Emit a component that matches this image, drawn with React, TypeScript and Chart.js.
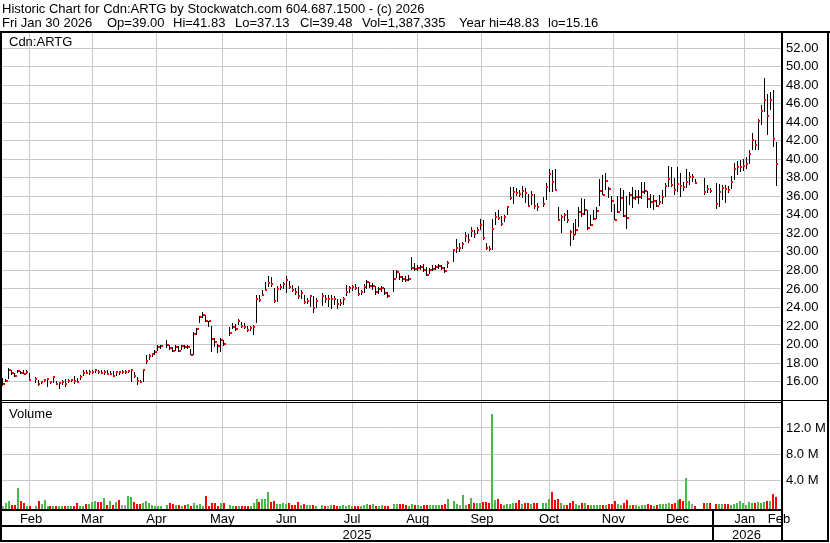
import React, { useEffect, useRef } from 'react';
import { Chart, registerables } from 'chart.js';

Chart.register(...registerables);

// ---------- text ----------
const headerTitle = 'Historic Chart for Cdn:ARTG by Stockwatch.com 604.687.1500 - (c) 2026';
const headerDate = 'Fri Jan 30 2026';
const headerStats = ['Op=39.00', 'Hi=41.83', 'Lo=37.13', 'Cl=39.48', 'Vol=1,387,335', 'Year hi=48.83', 'lo=15.16'];
const symbolLabel = 'Cdn:ARTG';
const volumeLabel = 'Volume';

// ---------- calendar (weekday index from Mon Feb 3 2025) ----------
const monthLabels = ['Feb', 'Mar', 'Apr', 'May', 'Jun', 'Jul', 'Aug', 'Sep', 'Oct', 'Nov', 'Dec', 'Jan', 'Feb'];
const monthStarts = [0, 20, 41, 63, 85, 106, 129, 150, 172, 195, 215, 238, 260];
const yearLabels = ['2025', '2026'];
const yearStarts = [0, 238];

// ---------- axis ticks ----------
const priceTicks = [16, 18, 20, 22, 24, 26, 28, 30, 32, 34, 36, 38, 40, 42, 44, 46, 48, 50, 52];
const volumeTicks = [4, 8, 12]; // millions

// ---------- daily data (null = market holiday) ----------
const close = [
  15.74, 16.10, 17.30, 16.90, 16.60, 17.14, 16.90, 16.85, 17.00, 16.20,
  null, 16.30, 15.74, 15.96, 16.20, 16.30, 15.90, 16.46, 15.74, 15.80,
  15.96, 15.74, 16.10, 16.17, 16.10, 15.90, 16.46, 16.96, 16.90, 16.98,
  17.02, 17.25, 17.00, 16.96, 17.05, 16.82, 16.85, 16.60, 17.05, 17.00,
  17.00, 17.00, 17.10, 17.25, 16.60, 16.10, 15.96, 17.25, 18.26, 18.76,
  18.98, 19.20, 19.77, 19.80, null, 19.99, 19.59, 19.34, 19.70, 19.34,
  19.84, 19.70, 19.77, 18.91, 21.14, 21.64, 23.00, 23.19, 22.58, 22.55,
  20.63, 20.31, 19.84, 20.49, 20.06, null, 21.28, 21.93, 21.70, 22.58,
  22.00, 21.86, 21.57, 21.79, 21.86, 24.95, 24.81, 25.39, 25.89, 26.68,
  26.50, 24.70, 26.03, 26.20, 26.50, 27.00, 26.20, 25.90, 25.70, 25.20,
  25.60, 24.60, 24.70, 25.20, 23.90, 24.70, null, 25.20, 24.90, 24.90,
  24.95, 24.90, 24.40, 24.45, 24.90, 25.70, 26.10, 26.20, 26.15, 25.45,
  25.70, 26.20, 26.80, 26.30, 26.35, 25.70, 26.00, 26.10, 25.60, 25.20,
  null, 27.10, 27.80, 27.30, 27.10, 27.00, 27.10, 28.30, 28.20, 28.30,
  28.40, 28.00, 27.50, 28.00, 28.20, 28.40, 28.45, 28.30, 27.90, 28.80,
  null, 30.20, 30.45, 30.45, 30.85, 31.70, 31.30, 32.25, 31.90, 32.40,
  32.90, 31.50, 30.45, 30.35, 32.50, 33.80, 33.70, 33.00, 33.80, 34.90,
  35.85, 36.50, 36.40, 36.20, 36.60, 36.40, 35.00, 36.10, 34.95, 34.90,
  null, 35.20, 37.00, 38.37, 37.50, 36.70, 33.50, 33.80, 34.00, 33.44,
  32.20, 31.80, 32.40, 34.34, 34.10, 34.50, 32.60, 32.90, 33.60, 34.45,
  36.60, 36.10, 37.70, 36.80, 35.50, 33.44, 34.34, 35.85, 33.90, 33.70,
  36.10, 35.85, 35.96, 35.98, 36.50, 36.60, 35.70, 35.35, 35.50, 35.00,
  35.35, 35.96, 37.15, 37.90, 37.20, 36.70, 37.33, 37.15, 36.97, 37.60,
  38.10, 38.10, 37.47, null, null, 36.50, 36.80, 36.60, null, 35.20,
  36.43, 36.93, 36.80, 36.70, 37.55, 38.99, 39.20, 39.22, 39.27, 39.49,
  40.57, 42.08, 41.54, 44.13, 45.25, 46.40, 44.67, 46.40, 42.20, 39.48,
];

const high = [
  16.35, 16.30, 17.47, 17.20, 16.90, 17.30, 17.10, 17.20, 17.20, 16.90,
  null, 16.46, 16.20, 16.10, 16.30, 16.35, 16.10, 16.60, 16.10, 16.00,
  16.20, 16.25, 16.30, 16.30, 16.60, 16.40, 16.70, 17.20, 17.20, 17.20,
  17.20, 17.35, 17.30, 17.20, 17.20, 17.20, 17.10, 17.10, 17.10, 17.10,
  17.20, 17.20, 17.20, 17.30, 17.00, 16.53, 16.20, 17.30, 18.90, 18.95,
  19.10, 19.40, 19.95, 20.00, null, 20.50, 20.00, 19.70, 19.90, 19.80,
  20.00, 19.95, 20.00, 19.50, 21.30, 21.80, 23.08, 23.55, 23.20, 22.58,
  22.00, 20.70, 20.06, 20.67, 20.50, null, 21.93, 22.29, 22.20, 22.72,
  22.40, 22.30, 22.00, 22.00, 22.11, 25.35, 25.30, 25.90, 26.79, 27.40,
  27.26, 26.07, 26.30, 26.50, 26.80, 27.40, 26.90, 26.40, 26.10, 26.30,
  25.90, 25.40, 25.00, 25.40, 25.20, 25.00, null, 25.60, 25.40, 25.30,
  25.30, 25.20, 24.90, 24.90, 25.10, 26.40, 26.30, 26.40, 26.50, 26.20,
  25.90, 26.50, 27.00, 26.80, 26.60, 26.30, 26.20, 26.30, 26.10, 25.70,
  null, 28.00, 28.10, 27.70, 27.40, 27.40, 27.50, 29.40, 28.80, 28.60,
  28.60, 28.70, 28.40, 28.30, 28.60, 28.60, 28.70, 28.60, 28.40, 29.00,
  null, 30.20, 31.35, 31.00, 31.10, 32.20, 31.90, 32.70, 32.40, 32.70,
  33.60, 33.40, 31.00, 30.60, 33.60, 34.30, 34.50, 33.90, 34.00, 34.90,
  37.00, 37.00, 36.90, 36.70, 37.10, 36.90, 36.30, 36.60, 36.30, 35.30,
  null, 35.90, 37.40, 38.90, 38.85, 39.00, 34.90, 34.00, 34.20, 34.50,
  32.40, 33.10, 33.60, 34.90, 35.80, 35.70, 34.50, 34.00, 34.50, 34.90,
  37.90, 38.30, 38.50, 37.00, 36.00, 35.20, 36.00, 36.90, 36.70, 36.00,
  36.50, 37.00, 36.70, 36.70, 37.60, 37.60, 36.60, 36.30, 36.10, 35.60,
  36.10, 36.70, 37.47, 39.27, 39.20, 37.94, 39.20, 38.50, 37.60, 39.00,
  38.66, 38.40, 37.90, null, null, 37.94, 37.20, 36.90, null, 37.40,
  37.33, 37.20, 37.20, 37.10, 38.20, 39.60, 39.80, 39.90, 40.00, 40.20,
  41.00, 42.80, 42.08, 44.40, 45.86, 48.83, 47.10, 47.30, 47.50, 41.83,
];

const low = [
  15.52, 15.90, 16.24, 16.70, 16.50, 16.90, 16.80, 16.80, 16.85, 16.10,
  null, 15.80, 15.50, 15.70, 15.90, 15.45, 15.70, 15.80, 15.60, 15.16,
  15.60, 15.45, 15.80, 15.90, 15.75, 15.80, 16.20, 16.60, 16.80, 16.75,
  16.80, 16.90, 16.85, 16.80, 16.75, 16.70, 16.70, 16.50, 16.60, 16.70,
  16.80, 16.80, 16.90, 15.99, 16.40, 15.63, 15.80, 15.99, 17.90, 18.30,
  18.60, 18.90, 19.34, 19.50, null, 19.60, 19.40, 19.20, 19.30, 19.20,
  19.40, 19.50, 19.50, 18.85, 18.90, 21.00, 22.29, 22.83, 22.40, 21.86,
  19.23, 19.70, 19.05, 19.20, 19.80, null, 20.92, 21.71, 21.50, 22.11,
  21.80, 21.70, 21.40, 21.50, 21.03, 22.36, 24.60, 25.35, 25.89, 26.25,
  26.25, 24.52, 24.60, 25.90, 26.00, 25.52, 26.00, 25.70, 25.40, 24.90,
  24.90, 24.40, 24.40, 24.10, 23.40, 23.90, null, 24.20, 24.50, 24.00,
  23.80, 24.30, 23.80, 24.20, 24.30, 25.20, 25.60, 25.80, 25.90, 25.20,
  25.30, 25.60, 26.00, 26.10, 25.90, 25.40, 25.50, 25.70, 25.30, 25.00,
  null, 25.70, 27.20, 27.00, 26.80, 26.80, 26.90, 28.10, 27.90, 27.90,
  28.00, 27.80, 27.40, 27.60, 27.90, 28.00, 28.20, 28.00, 27.70, 28.30,
  null, 28.90, 29.90, 30.00, 30.30, 31.10, 31.00, 31.60, 31.50, 31.90,
  32.40, 31.30, 30.20, 30.10, 30.20, 32.90, 33.40, 32.80, 33.20, 34.00,
  35.60, 35.20, 36.00, 35.90, 35.80, 35.30, 34.80, 35.10, 34.60, 34.40,
  null, 34.90, 35.60, 36.50, 36.50, 36.68, 33.30, 32.07, 33.30, 33.10,
  30.60, 31.30, 31.80, 32.70, 33.80, 34.00, 32.40, 32.80, 33.40, 33.60,
  35.00, 36.10, 36.70, 35.80, 34.30, 33.40, 34.20, 34.40, 33.80, 32.50,
  35.10, 34.70, 35.60, 35.20, 35.67, 36.30, 34.70, 34.70, 34.50, 34.90,
  35.10, 35.20, 35.96, 37.00, 37.00, 36.14, 36.50, 35.96, 36.60, 36.86,
  37.20, 37.60, 37.30, null, null, 36.14, 36.40, 36.40, null, 34.60,
  34.88, 35.60, 35.30, 36.40, 36.75, 37.76, 38.30, 38.60, 38.70, 38.90,
  39.50, 41.00, 41.00, 41.00, 43.70, 45.14, 42.60, 45.30, 41.36, 37.13,
];

// volume in millions of shares
const volume = [
  0.07, 0.48, 0.79, 0.18, 0.18, 2.82, 0.79, 0.48, 0.05, 0.05,
  null, 0.07, 0.79, 0.38, 0.99, 0.05, 0.03, 0.04, 0.04, 0.04,
  0.05, 0.05, 0.05, 0.13, 0.05, 0.48, 0.07, 0.13, 0.38, 0.38,
  0.68, 0.79, 0.68, 0.68, 1.30, 0.18, 0.89, 0.18, 0.68, 0.99,
  0.18, 0.18, 1.60, 1.40, 0.73, 0.38, 0.38, 0.58, 0.79, 0.58,
  0.18, 0.07, 0.07, 0.07, null, 0.27, 0.48, 0.38, 0.18, 0.18,
  0.07, 0.18, 0.38, 0.07, 0.48, 0.18, 0.38, 0.05, 1.60, 0.07,
  0.48, 0.48, 0.07, 0.48, 0.48, null, 0.18, 0.07, 0.07, 0.07,
  0.04, 0.04, 0.05, 0.07, 0.58, 1.10, 0.68, 1.20, 1.10, 2.21,
  0.68, 0.79, 0.38, 0.38, 0.48, 0.38, 0.48, 0.27, 0.18, 0.68,
  0.18, 0.38, 0.18, 0.18, 0.27, 0.07, null, 0.18, 0.07, 0.05,
  0.18, 0.18, 0.07, 0.07, 0.18, 0.07, 0.18, 0.07, 0.07, 0.07,
  0.07, 0.18, 0.38, 0.27, 0.38, 0.07, 0.07, 0.18, 0.07, 0.07,
  null, 0.38, 0.38, 0.38, 0.38, 0.18, 0.07, 0.38, 0.18, 0.18,
  0.07, 0.18, 0.27, 0.27, 0.27, 0.18, 0.27, 0.27, 0.38, 1.10,
  null, 0.79, 0.38, 0.27, 1.75, 0.27, 0.38, 1.30, 0.58, 0.58,
  0.58, 0.68, 0.68, 0.58, 14.14, 0.99, 1.19, 0.38, 0.27, 0.38,
  0.38, 0.58, 0.58, 0.99, 0.38, 0.48, 0.48, 0.38, 0.58, 0.58,
  null, 0.48, 0.48, 1.19, 2.21, 0.99, 1.19, 0.48, 0.18, 0.18,
  0.58, 0.79, 0.38, 0.18, 0.48, 0.48, 0.18, 0.18, 0.18, 0.18,
  0.27, 0.18, 0.18, 0.38, 0.38, 0.79, 0.38, 0.18, 0.48, 0.99,
  0.18, 0.27, 0.18, 0.07, 0.18, 0.27, 0.38, 0.18, 0.07, 0.18,
  0.38, 0.38, 0.38, 0.48, 0.38, 0.58, 0.99, 1.10, 0.79, 4.35,
  0.79, 0.38, 0.07, null, null, 0.48, 0.48, 0.48, null, 0.38,
  0.38, 0.38, 0.38, 0.38, 0.27, 0.38, 0.58, 0.79, 0.58, 0.27,
  0.68, 0.58, 0.48, 0.68, 0.58, 0.68, 0.79, 0.79, 1.86, 1.39,
];

// ---------- style / layout constants ----------
const FONT = '13px "Liberation Sans", Arial, sans-serif';
const GRID = '#c8c8c8';
const UP = '#4cb848';
const DOWN = '#ff0000';
const FLAT = '#a0a0a0';
const X_MIN = -0.24;
const X_MAX = 260.66;
const P_MIN = 13.9;
const P_MAX = 53.64;
const V_MIN = -0.39;
const V_MAX = 16.12;
const STAT_X = [107, 173, 235, 300, 362, 459, 548];

// snap bar and marker elements (positioned by the scales) to whole pixels for crisp 1-2px marks
const snapPlugin = {
  id: 'pixelSnap',
  beforeDatasetsDraw(chart: any) {
    chart.data.datasets.forEach((_: any, di: number) => {
      const meta = chart.getDatasetMeta(di);
      meta.data.forEach((el: any) => {
        if (meta.type === 'bar') {
          const w = Math.max(1, Math.round(el.width));
          el.width = w;
          el.x = Math.round(el.x - w / 2) + w / 2;
          el.y = Math.round(el.y);
          el.base = Math.round(el.base);
        } else {
          el.x = Math.round(el.x);
          el.y = Math.round(el.y);
        }
      });
    });
  },
};

const framePlugin = {
  id: 'stockwatchFrame',
  beforeDraw(chart: any) {
    const ctx = chart.ctx;
    ctx.save();
    ctx.fillStyle = '#ffffff';
    ctx.fillRect(0, 0, chart.width, chart.height);
    ctx.restore();
  },
  afterDraw(chart: any) {
    const ctx = chart.ctx;
    const area = chart.chartArea;
    const xs = chart.scales.x;
    const ys = chart.scales.y;
    const W = chart.width;
    ctx.save();
    ctx.fillStyle = '#000';
    ctx.font = FONT;
    ctx.textBaseline = 'alphabetic';
    ctx.textAlign = 'left';
    // header
    ctx.fillText(headerTitle, 2, 13);
    ctx.fillText(headerDate, 2, 27);
    headerStats.forEach((s, k) => ctx.fillText(s, STAT_X[k], 27));

    const right = Math.round(area.right);
    const bottom = Math.round(area.bottom);
    // frame
    ctx.fillRect(0, 31, W, 2);
    ctx.fillRect(0, 31, 2, 511);
    ctx.fillRect(W - 3, 31, 2, 511);
    ctx.fillRect(0, 540, W - 1, 2);
    ctx.fillRect(right, 31, 2, 511);
    // panel separator (double rule)
    const sep = Math.round(ys.bottom);
    ctx.fillRect(0, sep - 1, W - 1, 1);
    ctx.fillRect(0, sep + 1, right, 1);
    // time axis rules
    ctx.fillRect(0, bottom, right, 2);
    ctx.fillRect(0, 525, right, 2);
    // year separators
    for (let k = 1; k < yearStarts.length; k++) {
      const px = Math.round(xs.getPixelForValue(yearStarts[k] - 0.5));
      ctx.fillRect(px, bottom, 2, 540 - bottom);
    }
    // panel titles
    ctx.fillText(symbolLabel, 9, 46);
    ctx.fillText(volumeLabel, 9, 418);
    // month labels
    ctx.textAlign = 'center';
    monthLabels.forEach((m, k) => {
      const s = monthStarts[k];
      const e = k + 1 < monthStarts.length ? monthStarts[k + 1] : s + 1;
      const c = (s + e) / 2 - 0.5;
      ctx.fillText(m, xs.getPixelForValue(c), 523);
    });
    // year labels
    yearLabels.forEach((y, k) => {
      const a = xs.getPixelForValue(yearStarts[k] - 0.5);
      const b = k + 1 < yearStarts.length ? xs.getPixelForValue(yearStarts[k + 1] - 0.5) : area.right;
      ctx.fillText(y, (Math.max(a, area.left) + b) / 2, 539);
    });
    ctx.restore();
  },
};

export default function App() {
  const ref = useRef<HTMLCanvasElement | null>(null);

  useEffect(() => {
    document.body.style.margin = '0';
    const canvas = ref.current;
    if (!canvas) return;

    const days: number[] = [];
    close.forEach((c, i) => {
      if (c != null) days.push(i);
    });
    let prev: number | null = null;
    const volColors = days.map((i) => {
      const c = close[i] as number;
      const col = prev == null || c === prev ? FLAT : c > prev ? UP : DOWN;
      prev = c;
      return col;
    });

    const tickFont = { family: '"Liberation Sans", Arial, sans-serif', size: 13 };

    const chart = new Chart(canvas, {
      type: 'bar',
      data: {
        datasets: [
          {
            type: 'scatter',
            label: 'Close',
            data: days.map((i) => ({ x: i + 0.3, y: close[i] as number })),
            xAxisID: 'x',
            yAxisID: 'y',
            pointStyle: 'rect',
            pointRadius: 1.4143,
            pointHoverRadius: 1.4143,
            pointBorderWidth: 0,
            backgroundColor: '#ff0000',
            borderColor: '#ff0000',
            order: 0,
          } as any,
          {
            type: 'bar',
            label: 'High-Low',
            data: days.map((i) => ({ x: i, y: [low[i] as number, high[i] as number] })),
            xAxisID: 'x',
            yAxisID: 'y',
            backgroundColor: '#000000',
            maxBarThickness: 1,
            grouped: false,
            order: 1,
          } as any,
          {
            type: 'bar',
            label: 'Volume',
            data: days.map((i) => ({ x: i, y: volume[i] as number })),
            xAxisID: 'x',
            yAxisID: 'v',
            backgroundColor: volColors,
            maxBarThickness: 2,
            grouped: false,
            base: V_MIN,
            order: 2,
          } as any,
        ],
      },
      options: {
        responsive: false,
        animation: false,
        devicePixelRatio: 1,
        events: [],
        layout: { padding: { top: 33, left: 2, right: 0, bottom: 0 } },
        plugins: { legend: { display: false }, tooltip: { enabled: false } },
        scales: {
          x: {
            type: 'linear',
            position: 'bottom',
            min: X_MIN,
            max: X_MAX,
            offset: false,
            grid: { color: GRID, lineWidth: 1, drawTicks: false },
            border: { display: false },
            ticks: { display: false },
            afterBuildTicks: (s: any) => {
              s.ticks = monthStarts.slice(1).map((m) => ({ value: m - 0.5 }));
            },
            afterFit: (s: any) => {
              s.height = 34;
            },
          },
          y: {
            type: 'linear',
            position: 'right',
            stack: 'panels',
            stackWeight: 368,
            min: P_MIN,
            max: P_MAX,
            grid: { color: GRID, lineWidth: 1, drawTicks: false },
            border: { display: false },
            ticks: {
              color: '#000',
              font: tickFont,
              padding: 5,
              autoSkip: false,
              callback: (v: any) => Number(v).toFixed(2),
            },
            afterBuildTicks: (s: any) => {
              s.ticks = priceTicks.map((v) => ({ value: v }));
            },
            afterFit: (s: any) => {
              s.width = 49;
            },
          },
          v: {
            type: 'linear',
            position: 'right',
            stack: 'panels',
            stackWeight: 108,
            min: V_MIN,
            max: V_MAX,
            grid: { color: GRID, lineWidth: 1, drawTicks: false },
            border: { display: false },
            ticks: {
              color: '#000',
              font: tickFont,
              padding: 5,
              autoSkip: false,
              callback: (v: any) => Number(v).toFixed(1) + ' M',
            },
            afterBuildTicks: (s: any) => {
              s.ticks = volumeTicks.map((v) => ({ value: v }));
            },
            afterFit: (s: any) => {
              s.width = 49;
            },
          },
        },
      } as any,
      plugins: [snapPlugin, framePlugin],
    });

    return () => chart.destroy();
  }, []);

  return (
    <div style={{ position: 'absolute', left: 0, top: 0, width: 830, height: 543 }}>
      <canvas ref={ref} width={830} height={543} style={{ display: 'block', width: 830, height: 543 }} />
    </div>
  );
}
